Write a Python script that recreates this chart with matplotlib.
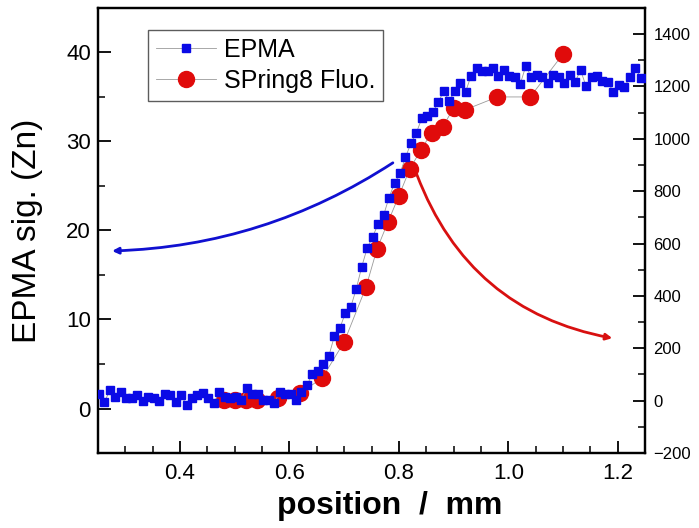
import numpy as np
import matplotlib
matplotlib.use("Agg")
import matplotlib.pyplot as plt
import matplotlib.ticker as ticker

plt.rcParams['font.family'] = ['Liberation Sans', 'DejaVu Sans']

# EPMA line scan (left axis)
epma_x = [0.252, 0.262, 0.272, 0.282, 0.292, 0.302, 0.312, 0.322, 0.332, 0.342,
          0.352, 0.362, 0.372, 0.382, 0.392, 0.402, 0.412, 0.422, 0.432, 0.442,
          0.452, 0.462, 0.472, 0.482, 0.492, 0.502, 0.512, 0.522, 0.532, 0.542,
          0.552, 0.562, 0.572, 0.582, 0.592, 0.602, 0.612, 0.622, 0.632, 0.642,
          0.652, 0.662, 0.672, 0.682, 0.692, 0.702, 0.712, 0.722, 0.732, 0.742,
          0.752, 0.762, 0.772, 0.782, 0.792, 0.802, 0.812, 0.822, 0.832, 0.842,
          0.852, 0.862, 0.872, 0.882, 0.892, 0.902, 0.912, 0.922, 0.932, 0.942,
          0.952, 0.962, 0.972, 0.982, 0.992, 1.002, 1.012, 1.022, 1.032, 1.042,
          1.052, 1.062, 1.072, 1.082, 1.092, 1.102, 1.112, 1.122, 1.132, 1.142,
          1.152, 1.162, 1.172, 1.182, 1.192, 1.202, 1.212, 1.222, 1.232, 1.242]
epma_sig = [1.6, 0.7, 2.1, 1.3, 1.8, 1.2, 1.2, 1.5, 0.9, 1.3,
            1.2, 0.9, 1.6, 1.5, 0.7, 1.5, 0.4, 1.2, 1.5, 1.7,
            1.2, 0.6, 1.9, 1.3, 1.2, 1.3, 1.0, 2.3, 1.6, 1.6,
            1.0, 1.0, 0.6, 1.8, 1.6, 1.6, 1.0, 1.8, 2.6, 3.9,
            4.2, 5.0, 5.9, 8.1, 9.0, 10.7, 11.4, 13.4, 15.9, 18.0,
            19.3, 20.7, 21.7, 23.7, 25.3, 26.4, 28.2, 29.8, 31.0, 32.6,
            32.9, 33.3, 34.4, 35.7, 34.5, 35.7, 36.6, 35.6, 37.4, 38.3,
            37.9, 37.9, 38.3, 37.4, 38.0, 37.3, 37.2, 36.5, 38.5, 37.2,
            37.5, 37.2, 36.6, 37.5, 37.2, 36.6, 37.5, 36.7, 38.0, 36.2,
            37.2, 37.4, 36.8, 36.7, 35.5, 36.3, 36.1, 37.2, 38.3, 37.1]

# SPring8 fluorescence (right axis)
fluo_x = [0.48, 0.50, 0.52, 0.54, 0.58, 0.62, 0.66, 0.70, 0.74, 0.76, 0.78,
          0.80, 0.82, 0.84, 0.86, 0.88, 0.90, 0.92, 0.98, 1.04, 1.10]
fluo_sig = [2, 2, 2, 2, 10, 29, 87, 224, 434, 579, 682,
            782, 885, 957, 1024, 1045, 1118, 1110, 1160, 1160, 1324]

fig = plt.figure(figsize=(6.99, 5.28), dpi=100)
ax = fig.add_axes([0.140, 0.142, 0.783, 0.843])
ax2 = ax.twinx()

l1, = ax.plot(epma_x, epma_sig, color='#9a9a9a', lw=0.6, marker='s', ms=5.8,
              mfc='#0a0ae6', mec='#0a0ae6', label='EPMA', zorder=3)
l2, = ax2.plot(fluo_x, fluo_sig, color='#9a9a9a', lw=0.6, marker='o', ms=11.5,
               mfc='#e00b0b', mec='#e00b0b', label='SPring8 Fluo.', zorder=4)

ax.set_xlim(0.25, 1.25)
ax.set_ylim(-5, 45)
ax2.set_ylim(-200, 1500)

ax.xaxis.set_major_locator(ticker.MultipleLocator(0.2))
ax.xaxis.set_minor_locator(ticker.MultipleLocator(0.05))
ax.xaxis.set_major_formatter(ticker.FormatStrFormatter('%.1f'))
ax.yaxis.set_major_locator(ticker.MultipleLocator(10))
ax.yaxis.set_minor_locator(ticker.MultipleLocator(5))
ax2.yaxis.set_major_locator(ticker.MultipleLocator(200))
ax2.yaxis.set_minor_locator(ticker.MultipleLocator(100))

ax.tick_params(axis='x', which='both', direction='in', top=False, labelsize=16, pad=7)
ax.tick_params(axis='y', which='both', direction='in', right=False, labelsize=16, pad=5)
ax.tick_params(which='major', length=9, width=1.3)
ax.tick_params(which='minor', length=5, width=1.1)
ax2.tick_params(axis='y', which='both', direction='in', labelsize=12, pad=6)
ax2.tick_params(which='major', length=9, width=1.3)
ax2.tick_params(which='minor', length=5, width=1.1)

for a in (ax, ax2):
    for s in a.spines.values():
        s.set_linewidth(1.6)

ax.set_xlabel('position  /  mm', fontsize=23, fontweight='bold')
ax.xaxis.set_label_coords(0.534, -0.085)
ax.set_ylabel('EPMA sig. (Zn)', fontsize=24)
ax.yaxis.set_label_coords(-0.10, 0.50)

# arrows pointing to the corresponding axes
ax.annotate('', xy=(0.026, 0.454), xytext=(0.539, 0.652), xycoords='axes fraction',
            arrowprops=dict(arrowstyle='-|>', color='#1010d0', lw=2.0,
                            mutation_scale=9, shrinkA=0, shrinkB=0,
                            connectionstyle='arc3,rad=-0.14'), zorder=2)
ax.annotate('', xy=(0.940, 0.258), xytext=(0.583, 0.625), xycoords='axes fraction',
            arrowprops=dict(arrowstyle='-|>', color='#d81010', lw=2.0,
                            mutation_scale=9, shrinkA=0, shrinkB=0,
                            connectionstyle='arc3,rad=0.28'), zorder=2)

leg = ax.legend(handles=[l1, l2], loc='upper left', bbox_to_anchor=(0.092, 0.95),
                fontsize=18, frameon=True, fancybox=False, edgecolor='#333333',
                handlelength=2.4, handletextpad=0.35, borderpad=0.3, labelspacing=0.3,
                borderaxespad=0)
leg.get_frame().set_linewidth(1.0)
ax.set_zorder(ax2.get_zorder() + 1)
ax.patch.set_visible(False)

plt.savefig('out.png', dpi=100)
